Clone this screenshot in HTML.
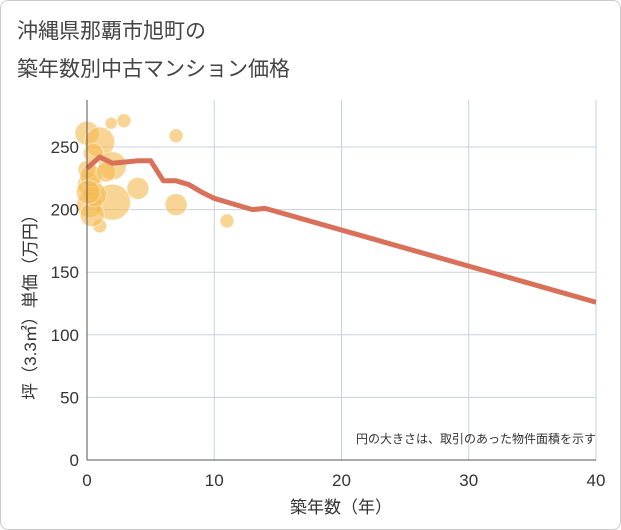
<!DOCTYPE html>
<html><head><meta charset="utf-8"><style>
body{margin:0;background:#fff;font-family:"Liberation Sans","Noto Sans CJK JP",sans-serif}
#wrap{position:relative;width:619px;height:528px;border:1px solid #ccc;border-radius:8px;background:#fff}
</style></head><body>
<div id="wrap">
<svg id="c" width="621" height="530" style="position:absolute;left:-1px;top:-1px">
<text x="17" y="38" font-size="21" fill="#444">沖縄県那覇市旭町の</text>
<text x="17" y="76" font-size="21" fill="#444">築年数別中古マンション価格</text>
<g id="grid"></g><g id="bubbles"></g><g id="line"></g><g id="axes"></g>
<text x="596" y="443" font-size="12" fill="#333" text-anchor="end">円の大きさは、取引のあった物件面積を示す</text>
<text x="341" y="513" font-size="17" fill="#333" text-anchor="middle">築年数（年）</text>
<text transform="translate(36,303) rotate(-90)" font-size="17" fill="#333" text-anchor="middle">坪（3.3㎡）単価（万円）</text>
</svg></div>
<script>
const xTicks=[0,10,20,30,40];
const yTicks=[0,50,100,150,200,250];
const lineX=[0,1,2,3,4,5,6,7,8,9,10,11,12,13,14,40];
const lineY=[233,242,237,238,239,239,223,223,220,214,209,206,203,200,201,126];
const bubX=[0,1.9,2.9,7,1,2,4,7,2,1,11,0.2,0.2,0.4,0.6,0,0.3,0.1,1.5,0.5];
const bubY=[261,269,271,259,254,235,217,204,206,187,191,204,220,196,212,232,227,214,230,245];
const bubR=[12,6,7,7,15,14,11,11,18,7,7,13,12,12,12,9,11,12,10,10];
const NS="http://www.w3.org/2000/svg";
const X=v=>87+v*12.725, Y=v=>460-v*1.252;
function mk(t,a,p){const e=document.createElementNS(NS,t);for(const k in a)e.setAttribute(k,a[k]);p.appendChild(e);return e;}
const g=document.getElementById('grid'),ax=document.getElementById('axes');
xTicks.forEach(t=>{const l=mk('line',{x1:X(t),x2:X(t),y1:100,y2:460,stroke:'#c8d2dc'},g);

const tx=mk('text',{x:X(t),y:486,'font-size':17,fill:'#333','text-anchor':'middle'},ax);tx.textContent=t;
});
yTicks.forEach(t=>{const l=mk('line',{x1:87,x2:596,y1:Y(t),y2:Y(t),stroke:'#c8d2dc'},g);

const tx=mk('text',{x:79,y:Y(t)+6,'font-size':17,fill:'#333','text-anchor':'end'},ax);tx.textContent=t;
});
const a1=mk('line',{x1:87,x2:87,y1:100,y2:460,stroke:'#555'},ax);

const a2=mk('line',{x1:87,x2:596,y1:460,y2:460,stroke:'#555'},ax);

const b=document.getElementById('bubbles');
bubX.forEach((v,i)=>{const c=mk('circle',{cx:X(v),cy:Y(bubY[i]),r:bubR[i],fill:'#f5b94f','fill-opacity':0.6,stroke:'#fff','stroke-opacity':0.5},b);
});
const p=mk('polyline',{points:lineX.map((v,i)=>X(v)+','+Y(lineY[i])).join(' '),fill:'none',stroke:'#d9705a','stroke-width':5,'stroke-linejoin':'round'},document.getElementById('line'));

</script></body></html>
